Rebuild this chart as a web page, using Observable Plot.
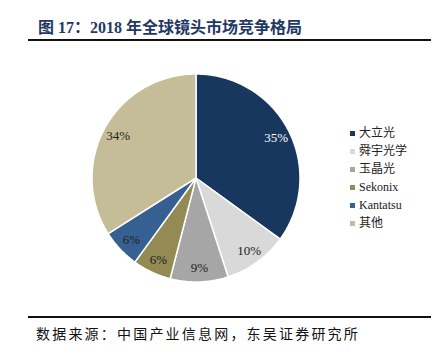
<!DOCTYPE html>
<html><head><meta charset="utf-8">
<script src="https://cdn.jsdelivr.net/npm/d3@7"></script>
<script src="https://cdn.jsdelivr.net/npm/@observablehq/plot@0.6"></script>
<style>
body{margin:0;background:#fff;}
#wrap{position:relative;width:444px;height:354px;overflow:hidden;font-family:"Liberation Serif","Noto Sans CJK SC",serif;}
#title{position:absolute;left:38px;top:14px;font-size:16px;font-weight:bold;color:#1f3864;white-space:nowrap;}
.rule{position:absolute;left:28px;width:403px;height:2px;background:#111;}
#chart{position:absolute;left:0;top:44px;}
#legend{position:absolute;left:350px;top:125px;font-size:12px;color:#222;font-family:"Liberation Serif","Noto Sans CJK SC",serif;}
#legend div{height:18px;line-height:17px;white-space:nowrap;}
#legend span.sw{display:inline-block;width:5px;height:5px;margin-right:4px;vertical-align:middle;position:relative;top:-1px;}
#caption{position:absolute;left:36px;top:323px;font-size:14px;letter-spacing:2.2px;color:#111;font-family:"Noto Sans CJK SC",serif;white-space:nowrap;}
</style></head>
<body><div id="wrap">
<div id="title">图 17：2018 年全球镜头市场竞争格局</div>
<div class="rule" style="top:39px"></div>
<div id="chart"></div>
<div id="legend"></div>
<div class="rule" style="top:316px"></div>
<div id="caption">数据来源：中国产业信息网，东吴证券研究所</div>
</div>
<script>
const categories = ["大立光","舜宇光学","玉晶光","Sekonix","Kantatsu","其他"];
const shares = [35,10,9,6,6,34];
const colors = ["#17375e","#d9d9d9","#a6a6a6","#948a54","#366092","#c4bd97"];

const W = 444, H = 270, cx = 196, cy = 134, R = 104;
const arcs = d3.pie().sort(null)(shares);
const pts = [];
arcs.forEach((a, i) => {
  const n = Math.max(8, Math.ceil((a.endAngle - a.startAngle) / 0.01));
  for (let k = 0; k <= n; k++) {
    const t = a.startAngle + (a.endAngle - a.startAngle) * k / n;
    pts.push({cat: categories[i], x: Math.sin(t), y: Math.cos(t), ox: 0, oy: 0});
  }
});
const labels = arcs.map((a, i) => {
  const m = (a.startAngle + a.endAngle) / 2, f = 0.86;
  return {cat: categories[i], x: f * Math.sin(m), y: f * Math.cos(m), text: shares[i] + "%", first: i === 0};
});

const chart = Plot.plot({
  width: W, height: H, margin: 0,
  x: {domain: [-cx / R, (W - cx) / R], axis: null},
  y: {domain: [-(H - cy) / R, cy / R], axis: null},
  color: {domain: categories, range: colors},
  marks: [
    Plot.area(pts, {x1: "x", y1: "y", x2: "ox", y2: "oy", z: "cat", fill: "cat", stroke: "white", strokeWidth: 1.5, strokeLinejoin: "round"}),
    Plot.text(labels.filter(d => d.first), {x: "x", y: "y", text: "text", fill: "white", fontSize: 13, fontFamily: "Liberation Serif"}),
    Plot.text(labels.filter(d => !d.first), {x: "x", y: "y", text: "text", fill: "#222", fontSize: 13, fontFamily: "Liberation Serif"})
  ]
});
document.getElementById("chart").appendChild(chart);

const leg = document.getElementById("legend");
categories.forEach((c, i) => {
  const d = document.createElement("div");
  d.innerHTML = `<span class="sw" style="background:${colors[i]}"></span>${c}`;
  leg.appendChild(d);
});
</script>
</body></html>
